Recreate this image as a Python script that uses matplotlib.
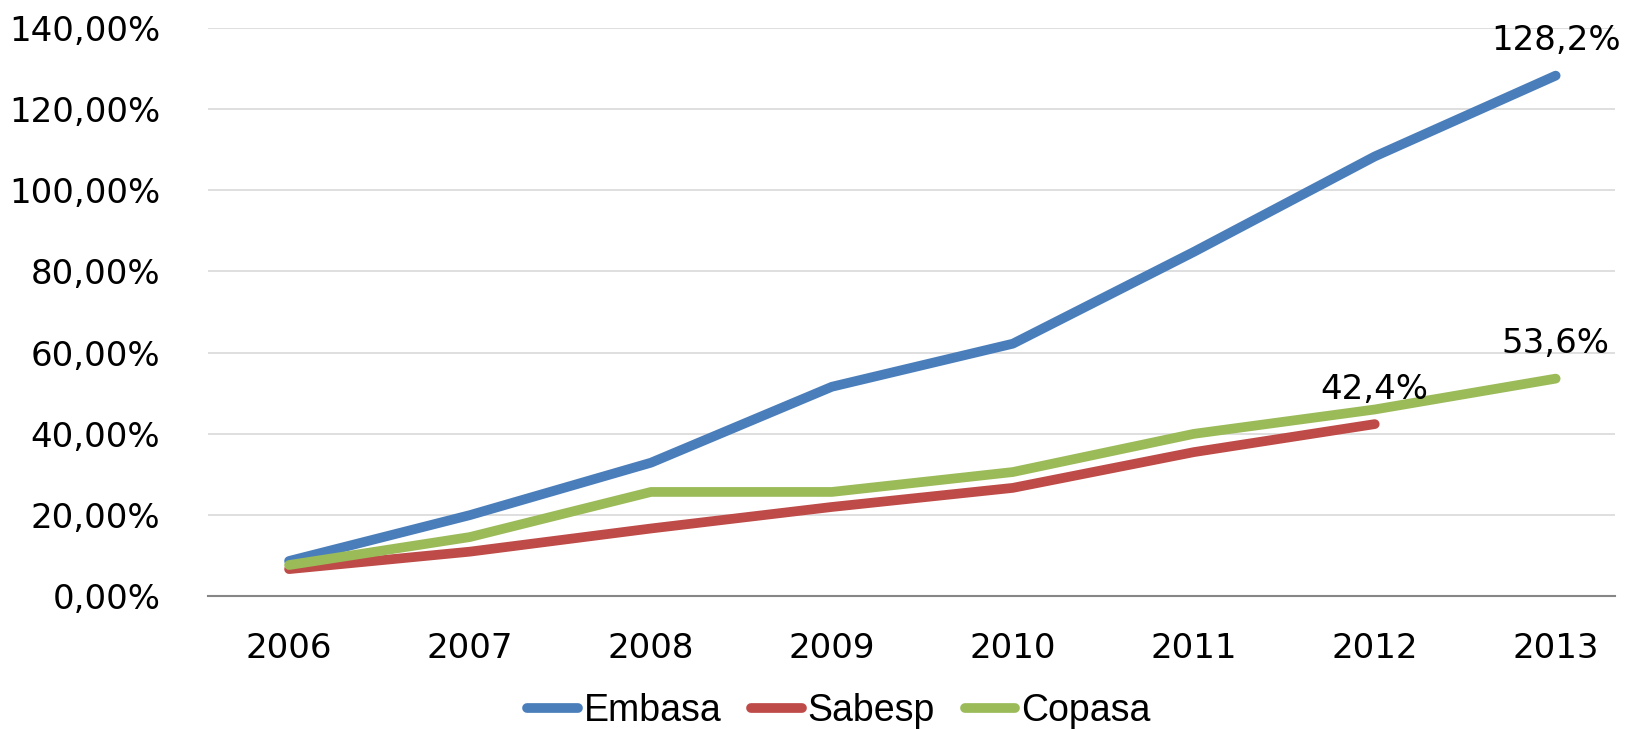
import matplotlib
matplotlib.use("Agg")
import matplotlib.pyplot as plt
from matplotlib.ticker import FuncFormatter

# cumulative growth per company
YEARS = ["2006", "2007", "2008", "2009", "2010", "2011", "2012", "2013"]
EMBASA = [8.7, 20.0, 32.9, 51.6, 62.2, 84.8, 108.3, 128.2]
SABESP = [6.7, 11.0, 16.7, 22.0, 26.7, 35.5, 42.4]
COPASA = [7.7, 14.6, 25.7, 25.7, 30.6, 40.0, 46.0, 53.6]
Y_TICKS = [0, 20, 40, 60, 80, 100, 120, 140]

BLUE = "#4A7EBB"; RED = "#BE4B48"; GREEN = "#9BBB59"

fig = plt.figure(figsize=(16.35, 7.29), dpi=100)
ax = fig.add_axes([0.127, 0.182, 0.861, 0.780])

xs = list(range(len(YEARS)))
series = [("Embasa", EMBASA, BLUE), ("Sabesp", SABESP, RED), ("Copasa", COPASA, GREEN)]
for name, vals, c in series:
    ax.plot(xs[:len(vals)], vals, color=c, lw=7, solid_capstyle="round",
            solid_joinstyle="round", label=name)

# data labels on the last point of each series
for vals in (EMBASA, SABESP, COPASA):
    i = len(vals) - 1
    ax.annotate(f"{vals[i]:.1f}%".replace(".", ","), (xs[i], vals[i]),
                xytext=(0, 25), textcoords="offset points", ha="center",
                va="center", fontsize=24.5, color="#000000")

ax.set_xlim(-0.45, 7.33)
ax.set_ylim(0, 140)
ax.set_xticks(xs)
ax.set_xticklabels(YEARS)
ax.set_yticks(Y_TICKS)
ax.yaxis.set_major_formatter(FuncFormatter(lambda v, _: f"{v:.2f}%".replace(".", ",")))
ax.tick_params(axis="both", length=0, labelsize=24.5)
ax.tick_params(axis="y", pad=34)
ax.tick_params(axis="x", pad=26)
ax.grid(axis="y", color="#D9D9D9", lw=1.2)
ax.set_axisbelow(True)
for s in ("top", "right", "left"):
    ax.spines[s].set_visible(False)
ax.spines["bottom"].set_color("#868686")
ax.spines["bottom"].set_linewidth(1.5)

leg = fig.legend(loc="center", bbox_to_anchor=(0.513, 0.025), ncol=3, frameon=False,
                 handlelength=1.35, handletextpad=0.15, columnspacing=0.8,
                 prop={"family": ["Liberation Sans Narrow", "Liberation Sans"], "size": 27})

fig.savefig("out.png", dpi=100)
